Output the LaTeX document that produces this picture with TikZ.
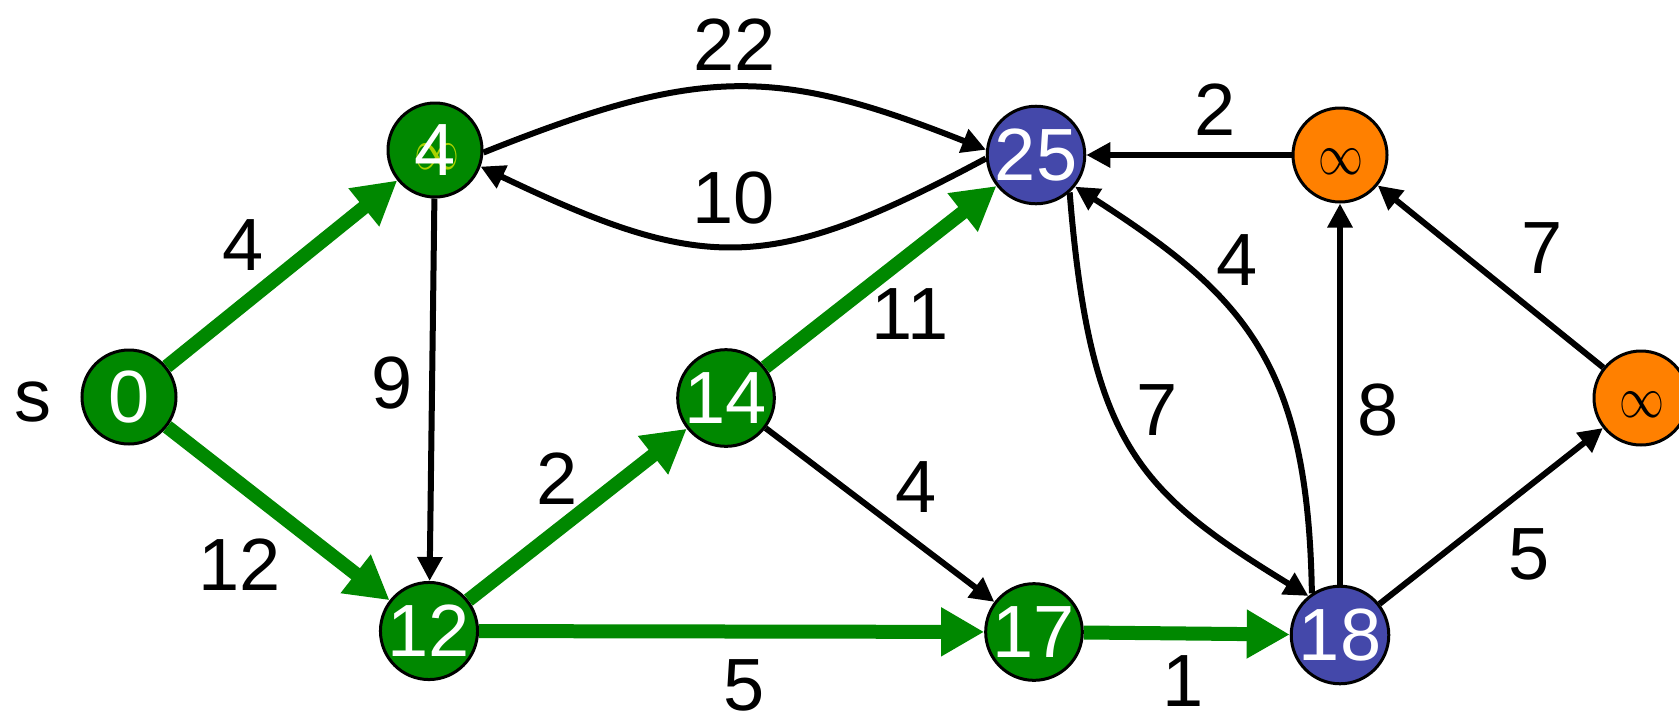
\documentclass[tikz,border=0pt]{standalone}
\usepackage{fontspec}
\setmainfont{Liberation Sans}
\usetikzlibrary{arrows.meta}
\definecolor{ggreen}{RGB}{0,136,0}
\definecolor{gblue}{RGB}{68,72,170}
\definecolor{gorange}{RGB}{255,128,0}
\definecolor{ygreen}{RGB}{170,210,0}
\newcommand{\biginf}{\scalebox{4.5}[5.9]{$\infty$}}
\begin{document}
\begin{tikzpicture}[x=1pt,y=-1pt,
  vtx/.style={circle,draw=black,line width=3pt,minimum size=94pt,inner sep=0pt,text=white,font=\fontsize{74}{80}\selectfont},
  gvtx/.style={vtx,fill=ggreen},
  bvtx/.style={vtx,fill=gblue},
  ovtx/.style={vtx,fill=gorange},
  lbl/.style={inner sep=0pt,font=\fontsize{74}{80}\selectfont},
  inf/.style={inner sep=0pt},
  gedge/.style={draw=ggreen,line width=14pt,-{Triangle[length=43pt,width=46pt]}},
  bedge/.style={draw=black,line width=6pt,-{Triangle[length=24pt,width=24pt]}},
]
\useasboundingbox (0,0) rectangle (1679,713);

% vertices
\node[gvtx] (n0) at (129,397) {0};
\node[gvtx] (n4) at (435,150) {};
\node[inf,text=ygreen] (n4inf) at (437,157) {\biginf};
\node[lbl,text=white] (n4num) at (435,150) {4};
\node[bvtx] (n25) at (1036,155) {25};
\node[ovtx] (ntop) at (1340,155) {};
\node[inf] (ntopinf) at (1341,162) {\biginf};
\node[ovtx] (nright) at (1641,398) {};
\node[inf] (nrightinf) at (1642,405) {\biginf};
\node[gvtx] (n14) at (726,398) {14};
\node[gvtx] (n12) at (429,631) {12};
\node[gvtx] (n17) at (1034,632) {17};
\node[bvtx] (n18) at (1340,635) {18};

% green edges
\draw[gedge] (n0) -- (n4);
\draw[gedge] (n0) -- (n12);
\draw[gedge] (n12) -- (n14);
\draw[gedge] (n14) -- (n25);
\draw[gedge] (n12) -- (n17);
\draw[gedge] (n17) -- (n18);

% black edges
\draw[bedge] (n4.-3) .. controls (700,66) and (775,66) .. (n25.174);
\draw[bedge] (n25.184) .. controls (770,274) and (705,274) .. (n4.-20);
\draw[bedge] (n4) -- (n12);
\draw[bedge] (n14) -- (n17);
\draw[bedge] (ntop) -- (n25);
\draw[bedge] (n25.-48) .. controls (1090,443) and (1137,491) .. (n18.129);
\draw[bedge] (n18.124) .. controls (1308,363) and (1245,296) .. (n25.-39);
\draw[bedge] (n18) -- (ntop);
\draw[bedge] (nright) -- (ntop);
\draw[bedge] (n18) -- (nright);

% labels
\node[lbl] (ls) at (33,402) {s};
\node[lbl] (l22) at (735,45) {22};
\node[lbl] (l10) at (734,198) {10};
\node[lbl] (l4a) at (243,245) {4};
\node[lbl] (l12) at (240,565) {12};
\node[lbl] (l9) at (392,383) {9};
\node[lbl] (l2a) at (557,479) {2};
\node[lbl] (l11) at (910,314) {11};
\node[lbl] (l4b) at (916,487) {4};
\node[lbl] (l5a) at (744,685) {5};
\node[lbl] (l1) at (1183,681) {1};
\node[lbl] (l2b) at (1215,110) {2};
\node[lbl] (l4c) at (1237,260) {4};
\node[lbl] (l7a) at (1157,410) {7};
\node[lbl] (l8) at (1378,410) {8};
\node[lbl] (l7b) at (1542,248) {7};
\node[lbl] (l5b) at (1529,554) {5};
\end{tikzpicture}
\end{document}
